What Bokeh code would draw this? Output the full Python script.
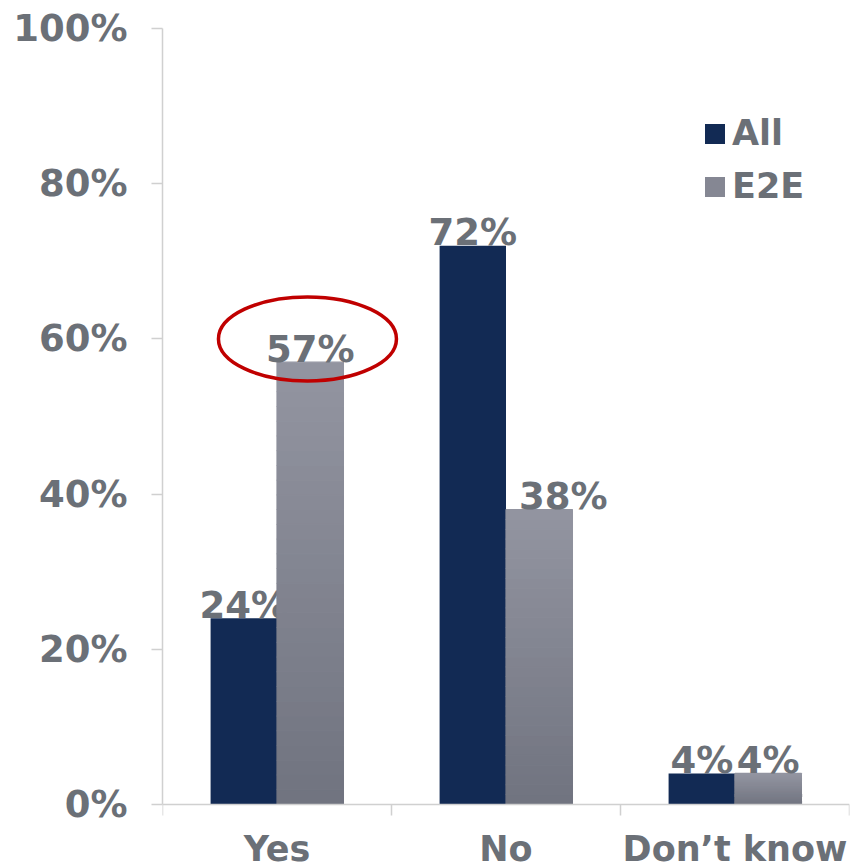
from bokeh.plotting import figure
from bokeh.models import Range1d, FixedTicker, ColumnDataSource, Legend, LegendItem
from bokeh.core.properties import value
from bokeh.embed import file_html
from bokeh.resources import INLINE

# ---- data ----
categories = ["Yes", "No", "Don\u2019t know"]
all_values = [24, 72, 4]
e2e_values = [57, 38, 4]
y_ticks = [0, 20, 40, 60, 80, 100]
y_tick_labels = ["0%", "20%", "40%", "60%", "80%", "100%"]
series_names = ["All", "E2E"]

# ---- style / layout ----
FONT = "DejaVu Sans"
TXT = "#6b7077"
NAVY = "#122a54"
GRAY_BOTTOM = (0x70, 0x73, 0x7f)
GRAY_TOP = (0x93, 0x95, 0xa1)
AXIS = "#d0d0d0"
FS = "37px"
FS_X = "35px"
BAR_W = 0.29
e2e_label_dx = [0, 24, 0]
W, H = 851, 867
TOP, LEFT, RIGHT = 28, 162, 2
PLOT_H_PX = 776            # height (px) between 0% and 100%
Y_MAX = y_ticks[-1]
below_px = H - TOP - PLOT_H_PX   # room under the 0 line for the category names
y_min = -below_px * Y_MAX / PLOT_H_PX

def mix(c1, c2, t):
    return "#%02x%02x%02x" % tuple(int(round(a + (b - a) * t)) for a, b in zip(c1, c2))

p = figure(width=W, height=H, output_backend="svg", toolbar_location=None,
           x_range=Range1d(0, len(categories)), y_range=Range1d(y_min, Y_MAX),
           min_border_left=LEFT, min_border_right=RIGHT, min_border_top=TOP, min_border_bottom=0)
p.outline_line_color = None
p.xgrid.grid_line_color = None
p.ygrid.grid_line_color = None
p.background_fill_color = "white"
p.border_fill_color = "white"

xc = [i + 0.5 for i in range(len(categories))]
x_all = [x - BAR_W / 2 for x in xc]
x_e2e = [x + BAR_W / 2 for x in xc]

# All bars
r_all = p.vbar(x=x_all, top=all_values, bottom=0, width=BAR_W, fill_color=NAVY, line_color=None)
p.text(x=x_all, y=all_values, text=[f"{v}%" for v in all_values], text_align="center",
       text_baseline="alphabetic", y_offset=-13, text_color=TXT, text_font=value(FONT),
       text_font_style="bold", text_font_size=FS)

# E2E bars with vertical gradient (slices)
N = 30
xs, bots, tops, cols = [], [], [], []
for x, v in zip(x_e2e, e2e_values):
    for i in range(N):
        xs.append(x)
        bots.append(v * i / N)
        tops.append(v * (i + 1) / N)
        cols.append(mix(GRAY_BOTTOM, GRAY_TOP, (i + 0.5) / N))
src = ColumnDataSource(dict(x=xs, bottom=bots, top=tops, color=cols))
p.vbar(x="x", bottom="bottom", top="top", width=BAR_W, fill_color="color",
       line_color="color", line_width=1.2, source=src)
p.text(x=x_e2e, y=e2e_values, text=[f"{v}%" for v in e2e_values], text_align="center",
       text_baseline="alphabetic", y_offset=-13, x_offset=e2e_label_dx, text_color=TXT,
       text_font=value(FONT), text_font_style="bold", text_font_size=FS)

# highlight ellipse around the E2E "Yes" value
p.ellipse(x=[x_e2e[0] - 0.012], y=[e2e_values[0] + 3], width=178, height=84,
          width_units="screen", height_units="screen", fill_color=None,
          line_color="#c00000", line_width=3.5)

# legend swatch renderer for E2E (kept outside the visible range)
leg_e2e = p.quad(left=[0], right=[0.1], bottom=[-200], top=[-190],
                 fill_color=mix(GRAY_BOTTOM, GRAY_TOP, 0.6), line_color=None)
legend = Legend(items=[LegendItem(label=series_names[0], renderers=[r_all]),
                       LegendItem(label=series_names[1], renderers=[leg_e2e])],
                location=(540, 598 + below_px), glyph_width=25, glyph_height=25, label_height=34,
                spacing=13, padding=0, label_standoff=5, border_line_color=None,
                background_fill_alpha=0, label_text_font=FONT, label_text_font_style="bold",
                label_text_font_size=FS_X, label_text_color=TXT)
p.add_layout(legend, "center")

# y axis (line limited to 0..100)
ya = p.yaxis[0]
ya.bounds = (y_ticks[0], Y_MAX)
ya.ticker = FixedTicker(ticks=y_ticks, minor_ticks=[])
ya.major_label_overrides = {t: l for t, l in zip(y_ticks, y_tick_labels)}
ya.axis_line_color = AXIS
ya.axis_line_width = 1.5
ya.major_tick_line_color = AXIS
ya.major_tick_line_width = 1.5
ya.major_tick_out = 11
ya.major_tick_in = 0
ya.minor_tick_line_color = None
ya.major_label_standoff = 24
ya.major_label_text_font = FONT
ya.major_label_text_font_style = "bold"
ya.major_label_text_font_size = FS
ya.major_label_text_color = TXT

# x axis fixed at the 0 line
xa = p.xaxis[0]
xa.fixed_location = 0
xa.ticker = FixedTicker(ticks=xc, minor_ticks=list(range(len(categories) + 1)))
xa.major_label_overrides = {x: c for x, c in zip(xc, categories)}
xa.axis_line_color = AXIS
xa.axis_line_width = 1.5
xa.major_tick_line_color = None
xa.major_tick_out = 11
xa.major_tick_in = 0
xa.minor_tick_line_color = AXIS
xa.minor_tick_line_width = 1.5
xa.minor_tick_out = 11
xa.minor_tick_in = 0
xa.major_label_standoff = 13
xa.major_label_text_font = FONT
xa.major_label_text_font_style = "bold"
xa.major_label_text_font_size = FS_X
xa.major_label_text_color = TXT

open("out.html", "w").write(file_html(p, INLINE))
